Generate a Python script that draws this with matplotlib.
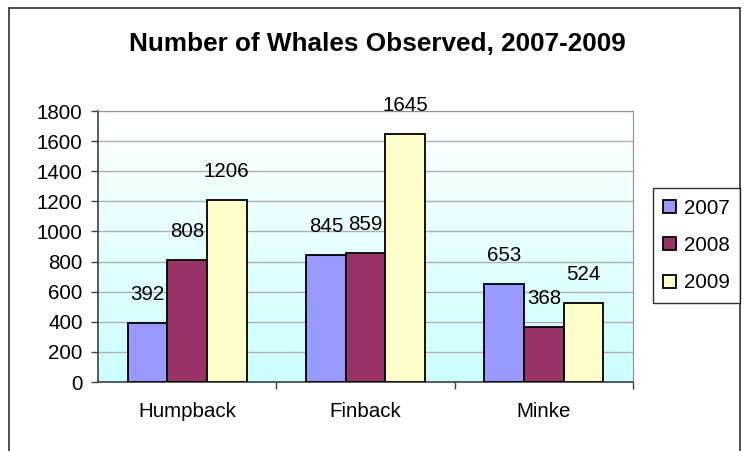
import numpy as np
import matplotlib
matplotlib.use("Agg")
import matplotlib.pyplot as plt
from matplotlib.lines import Line2D

species = ["Humpback", "Finback", "Minke"]
years = ["2007", "2008", "2009"]
counts_2007 = [392, 845, 653]
counts_2008 = [808, 859, 368]
counts_2009 = [1206, 1645, 524]
colors = ["#9999FF", "#993366", "#FFFFCC"]
yticks = [0, 200, 400, 600, 800, 1000, 1200, 1400, 1600, 1800]

plt.rcParams["font.family"] = ["Liberation Sans", "DejaVu Sans"]
FS = 14.8

W, H = 747, 451
fig = plt.figure(figsize=(W / 100, H / 100), dpi=100)

# outer chart border (bottom runs off the image)
for xs, ys in [([9, 9], [H + 5, 8]), ([9, 740], [8, 8]), ([740, 740], [8, H + 5])]:
    fig.add_artist(Line2D([x / W for x in xs], [1 - y / H for y in ys],
                          color="#404040", lw=1.3))

left, right, top, bottom = 98, 633, 111, 382
ax = fig.add_axes([left / W, 1 - bottom / H, (right - left) / W, (bottom - top) / H])

# gradient fill for the plot area: white at top, pale cyan at bottom
grad = np.linspace(0, 1, 256).reshape(-1, 1)
c_top = np.array([1.0, 1.0, 1.0])
c_bot = np.array([0xCC, 0xFF, 0xFF]) / 255
img = c_top + (c_bot - c_top) * grad[..., None]
ax.imshow(img, extent=[0, 1, 0, 1], transform=ax.transAxes, aspect="auto", zorder=0)

x = np.arange(len(species))
w = 1 / 4.5
series = [counts_2007, counts_2008, counts_2009]
for i, (vals, yr, col) in enumerate(zip(series, years, colors)):
    xs = x + (i - 1) * w
    ax.bar(xs, vals, width=w, color=col, edgecolor="black",
           linewidth=1.3, label=yr, zorder=3)
    for xi, v in zip(xs, vals):
        ax.annotate(str(v), (xi, v), xytext=(0, 20.5), textcoords="offset points",
                    ha="center", va="center", fontsize=FS, annotation_clip=False)

ax.set_xlim(-0.5, 2.5)
ax.set_ylim(0, 1800)
ax.set_yticks(yticks)
ax.set_yticklabels([str(t) for t in yticks], fontsize=FS)
ax.yaxis.grid(True, color="#B0B0B0", lw=1)
ax.set_axisbelow(True)
ax.tick_params(axis="y", length=5, width=1, color="#404040", pad=6)

ax.set_xticks([0.5, 1.5, 2.5])
ax.set_xticklabels([])
ax.tick_params(axis="x", length=5, width=1, color="#404040")
for xi, name in zip(x, species):
    ax.text(xi, -0.11, name, transform=ax.get_xaxis_transform(),
            ha="center", va="center", fontsize=FS)

for s in ["top", "right"]:
    ax.spines[s].set_color("#909090")
for s in ["left", "bottom"]:
    ax.spines[s].set_color("#404040")
    ax.spines[s].set_linewidth(1.2)

fig.text(377 / W, 1 - 44 / H, "Number of Whales Observed, 2007-2009",
         ha="center", va="center", fontsize=18.8, fontweight="bold")

leg = fig.legend(loc="center", bbox_to_anchor=(696.5 / W, 1 - 245.5 / H),
                 fontsize=FS, frameon=True, fancybox=False, edgecolor="black",
                 handlelength=0.6, handleheight=0.6, handletextpad=0.4,
                 labelspacing=0.9, borderpad=0.5)
leg.get_frame().set_linewidth(1)

fig.savefig("out.png", dpi=100)
